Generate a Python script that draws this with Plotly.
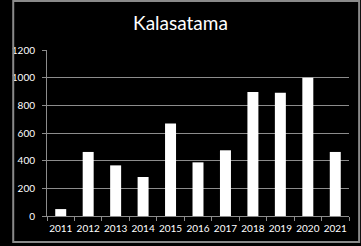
import plotly.graph_objects as go

years = ["2011", "2012", "2013", "2014", "2015", "2016", "2017", "2018", "2019", "2020", "2021"]
values = [50, 463, 366, 282, 668, 388, 475, 897, 891, 1000, 463]
y_ticks = [0, 200, 400, 600, 800, 1000, 1200]

W, H = 361, 246
L, R, T, B = 36, 12, 50, 30
pw, ph = W - L - R, H - T - B

def px_x(p):
    return (p - L) / pw

def px_y(p):
    return (H - B - p) / ph

fig = go.Figure(go.Bar(x=years, y=values, marker=dict(color="white", line=dict(width=0))))

fig.update_layout(
    width=W, height=H,
    margin=dict(l=L, r=R, t=T, b=B, pad=0),
    paper_bgcolor="black", plot_bgcolor="black",
    bargap=0.6,
    showlegend=False,
    title=dict(text="Kalasatama", x=0.5, xanchor="center", y=1 - 23 / H, yanchor="middle",
               font=dict(family="Lato", size=19, color="white")),
    font=dict(family="Lato", size=10, color="white"),
    xaxis=dict(type="category", showgrid=False, showline=True, linecolor="#8c8c8c", linewidth=1,
               ticks="outside", tickson="boundaries", ticklen=4, tickcolor="#8c8c8c",
               tickangle=0, ticklabelstandoff=3,
               tickfont=dict(family="Lato", size=10, color="white"), fixedrange=True),
    yaxis=dict(range=[0, 1200], tickvals=y_ticks, showgrid=True, gridcolor="#8c8c8c", gridwidth=1,
               showline=True, linecolor="#8c8c8c", linewidth=1, zeroline=False,
               ticks="outside", ticklen=4, tickcolor="#8c8c8c", ticklabelstandoff=5,
               tickfont=dict(family="Lato", size=10, color="white"), fixedrange=True),
    shapes=[dict(type="rect", xref="paper", yref="paper",
                 x0=px_x(1), x1=px_x(359.5), y0=px_y(1), y1=px_y(242),
                 line=dict(color="#8a8a8a", width=2), fillcolor="rgba(0,0,0,0)", layer="above")],
)

fig.write_html("out.html")
